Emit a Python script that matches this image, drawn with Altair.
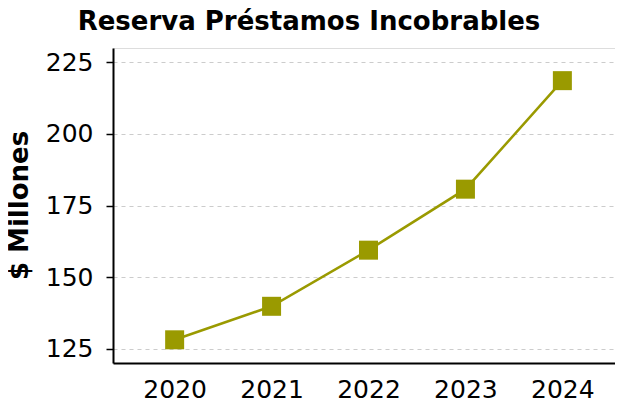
import altair as alt
import pandas as pd

years = [2020, 2021, 2022, 2023, 2024]
values = [128.1, 139.8, 159.4, 180.7, 218.6]
y_ticks = [125, 150, 175, 200, 225]

df = pd.DataFrame({"year": years, "value": values})

FONT = "DejaVu Sans"
COLOR = "#9a9a00"

x = alt.X(
    "year:Q",
    scale=alt.Scale(domain=[2019.364, 2024.543], nice=False, zero=False),
    axis=alt.Axis(
        values=years, format="d", title=None, grid=False, ticks=False,
        labelFontSize=25, labelFont=FONT, labelColor="#000000", labelPadding=14,
        domainColor="#000000", domainWidth=2, labelFlush=False,
    ),
)
y = alt.Y(
    "value:Q",
    scale=alt.Scale(domain=[120, 230], nice=False, zero=False),
    axis=alt.Axis(
        values=y_ticks, title="$ Millones", grid=True, gridDash=[4, 4],
        gridColor="#cccccc", gridWidth=1.2, tickSize=7, tickColor="#000000", tickWidth=1.5,
        labelFontSize=25, labelFont=FONT, labelColor="#000000", labelPadding=13,
        domainColor="#000000", domainWidth=2,
        titleFont=FONT, titleFontSize=26, titleFontWeight="bold", titleColor="#000000",
        titleAngle=270, titleX=-94, titleY=157, titleAlign="center", titleBaseline="middle",
    ),
)

base = alt.Chart(df)
line = base.mark_line(color=COLOR, strokeWidth=2.5).encode(x=x, y=y)
pts = base.mark_point(shape="square", filled=True, size=361, color=COLOR, opacity=1).encode(x=x, y=y)

chart = (
    alt.layer(line, pts)
    .properties(
        width=502,
        height=315,
        autosize=alt.AutoSizeParams(type="none"),
        padding={"left": 105, "top": 40, "right": 0, "bottom": 46},
        title=alt.TitleParams(
            "Reserva Préstamos Incobrables", font=FONT, fontSize=26, fontWeight="bold",
            color="#000000", anchor="middle", frame="group", dx=-55, offset=13,
        ),
    )
    .configure_view(stroke=None)
    .configure(background="white")
)

chart.save("out.html", embed_options={"renderer": "svg", "actions": False})
